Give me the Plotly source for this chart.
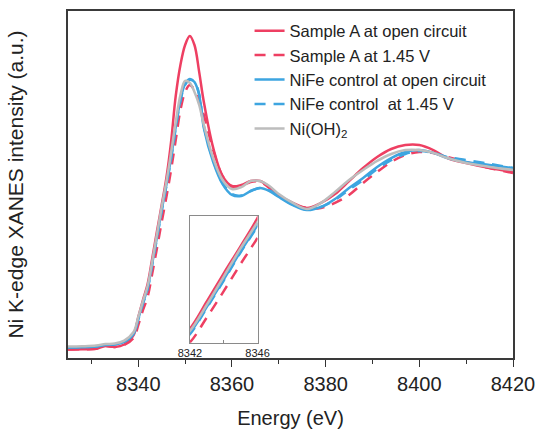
import plotly.graph_objects as go

energy_ev = [8325, 8328, 8331, 8333, 8335, 8337, 8339, 8340, 8341, 8342, 8343, 8344, 8345, 8346,
             8347, 8348, 8349, 8350, 8351, 8352, 8353, 8354, 8356, 8358, 8360, 8362, 8364, 8366,
             8368, 8370, 8373, 8376, 8379, 8382, 8385, 8388, 8391, 8394, 8397, 8400, 8403, 8406,
             8410, 8415, 8420]

sample_a_oc = [-0.008, -0.007, -0.004, 0.011, 0.006, 0.020, 0.073, 0.174, 0.270, 0.360, 0.506, 0.657,
               0.803, 0.955, 1.157, 1.416, 1.590, 1.702, 1.753, 1.702, 1.551, 1.382, 1.124, 0.966,
               0.910, 0.916, 0.938, 0.938, 0.904, 0.860, 0.815, 0.787, 0.815, 0.865, 0.938, 1.011,
               1.073, 1.118, 1.140, 1.140, 1.112, 1.067, 1.039, 1.011, 0.989]

sample_a_145 = [-0.008, -0.007, -0.004, 0.011, 0.006, 0.017, 0.056, 0.129, 0.213, 0.287, 0.421, 0.562,
                0.708, 0.848, 1.000, 1.169, 1.337, 1.438, 1.478, 1.449, 1.393, 1.309, 1.112, 0.966,
                0.904, 0.910, 0.933, 0.933, 0.899, 0.854, 0.809, 0.787, 0.787, 0.815, 0.860, 0.927,
                0.989, 1.045, 1.084, 1.101, 1.096, 1.073, 1.045, 1.011, 0.983]

nife_oc = [0.003, 0.004, 0.008, 0.017, 0.020, 0.034, 0.079, 0.163, 0.253, 0.337, 0.478, 0.624,
           0.775, 0.916, 1.067, 1.242, 1.393, 1.483, 1.511, 1.494, 1.421, 1.236, 1.045, 0.921,
           0.860, 0.854, 0.882, 0.899, 0.882, 0.848, 0.803, 0.775, 0.792, 0.837, 0.899, 0.955,
           1.017, 1.067, 1.101, 1.112, 1.096, 1.067, 1.045, 1.028, 1.011]

nife_145 = [0.004, 0.005, 0.009, 0.018, 0.021, 0.036, 0.082, 0.160, 0.249, 0.331, 0.472, 0.618,
            0.770, 0.910, 1.062, 1.236, 1.388, 1.478, 1.506, 1.494, 1.427, 1.247, 1.056, 0.927,
            0.865, 0.857, 0.882, 0.899, 0.885, 0.851, 0.806, 0.778, 0.792, 0.832, 0.890, 0.944,
            1.006, 1.056, 1.090, 1.106, 1.096, 1.073, 1.056, 1.034, 1.011]

ni_oh2 = [0.008, 0.010, 0.014, 0.022, 0.025, 0.042, 0.090, 0.174, 0.264, 0.348, 0.489, 0.640,
          0.792, 0.933, 1.096, 1.270, 1.421, 1.500, 1.489, 1.438, 1.365, 1.253, 1.067, 0.944,
          0.893, 0.904, 0.938, 0.938, 0.910, 0.865, 0.815, 0.781, 0.815, 0.876, 0.944, 1.000,
          1.051, 1.090, 1.112, 1.112, 1.096, 1.067, 1.039, 1.017, 1.000]

series_names = ["Sample A at open circuit", "Sample A at 1.45 V", "NiFe control at open circuit",
                "NiFe control \u00a0at 1.45 V", "Ni(OH)<sub>2</sub>"]

main_ticks = [8340, 8360, 8380, 8400, 8420]
inset_ticks = [8342, 8346]
inset_minor_ticks = [8344]

RED = "#EE3F62"
BLUE = "#3DA5E0"
GRAY = "#BDBDBD"
styles = [
    (sample_a_oc, RED, "solid"),
    (sample_a_145, RED, "11px,8px"),
    (nife_oc, BLUE, "solid"),
    (nife_145, BLUE, "11px,8px"),
    (ni_oh2, GRAY, "solid"),
]

FONT = "Liberation Sans, Arial, sans-serif"
fig = go.Figure()
for (vals, col, dash), name in zip(styles, series_names):
    fig.add_trace(go.Scatter(x=energy_ev, y=vals, mode="lines", name=name,
                             line=dict(color=col, width=2.5, dash=dash, shape="spline"),
                             xaxis="x", yaxis="y"))
for (vals, col, dash), name in zip(styles, series_names):
    fig.add_trace(go.Scatter(x=energy_ev, y=vals, mode="lines", name=name, showlegend=False,
                             line=dict(color=col, width=2.5, dash=dash, shape="spline"),
                             xaxis="x2", yaxis="y2"))

fig.update_layout(
    width=536, height=429,
    margin=dict(l=68, r=23, t=11, b=71),
    paper_bgcolor="white", plot_bgcolor="white",
    font=dict(family=FONT, color="#222"),
    xaxis=dict(range=[8325, 8420], tickvals=main_ticks, ticks="outside", ticklen=7,
               tickwidth=1.2, tickcolor="#333",
               minor=dict(dtick=10, tick0=8330, ticks="outside", ticklen=4, tickcolor="#333"),
               showline=True, linecolor="#3a3a3a", linewidth=1.5, mirror=True,
               showgrid=False, zeroline=False, tickfont=dict(size=20, color="#222"),
               title=dict(text="Energy (eV)", font=dict(size=20, color="#222"), standoff=18),
               automargin=False),
    yaxis=dict(range=[-0.056, 1.893], showticklabels=False, ticks="",
               showline=True, linecolor="#3a3a3a", linewidth=1.5, mirror=True,
               showgrid=False, zeroline=False,
               title=dict(text="Ni K-edge XANES intensity (a.u.)", font=dict(size=21, color="#222"),
                          standoff=37),
               automargin=False),
    xaxis2=dict(domain=[0.274, 0.426], anchor="y2", range=[8342, 8346], tickvals=inset_ticks,
                ticks="", 
                minor=dict(tickvals=inset_minor_ticks, ticks="inside", ticklen=3, tickcolor="#888"),
                showline=True, linecolor="#8a8a8a", linewidth=1, mirror=True,
                showgrid=False, zeroline=False, tickfont=dict(size=11, color="#222")),
    yaxis2=dict(domain=[0.044, 0.410], anchor="x2", range=[0.285, 0.966], showticklabels=False,
                ticks="", showline=True, linecolor="#8a8a8a", linewidth=1, mirror=True,
                showgrid=False, zeroline=False),
    legend=dict(x=0.408, y=0.993, xanchor="left", yanchor="top", bgcolor="rgba(0,0,0,0)",
                font=dict(size=16.5, color="#222"), tracegroupgap=0),
    showlegend=True,
)

fig.write_html("out.html", config={"displayModeBar": False},
               post_script="document.body.style.margin='0';document.body.style.padding='0';")
